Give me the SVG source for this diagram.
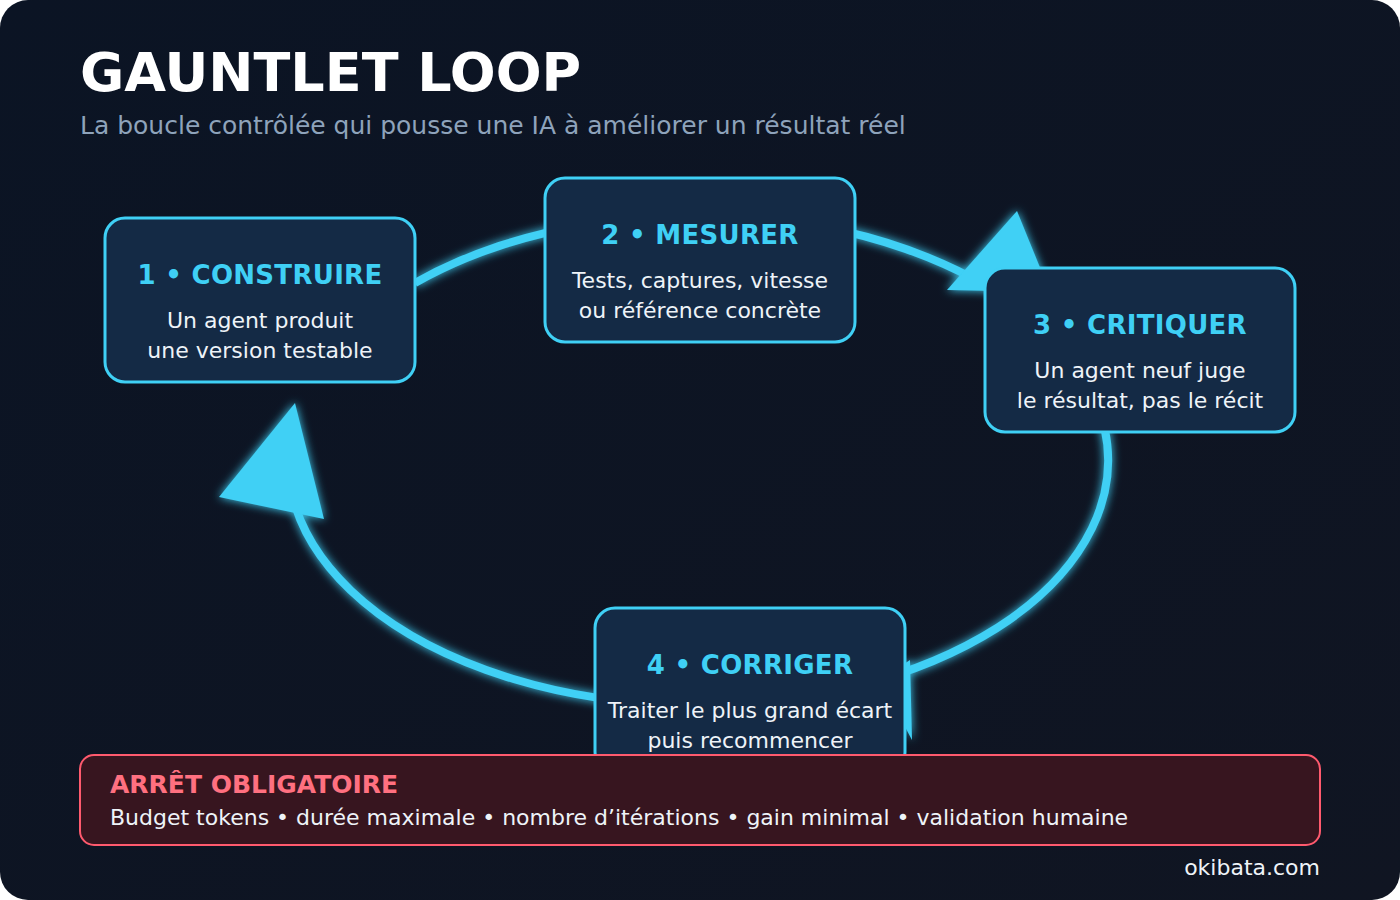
<svg xmlns="http://www.w3.org/2000/svg" width="1400" height="900" viewBox="0 0 1400 900">
<defs>
<linearGradient id="bg" x1="0" y1="0" x2="1" y2="1"><stop offset="0" stop-color="#0b1424"/><stop offset="1" stop-color="#101522"/></linearGradient>
<filter id="glow" x="-20%" y="-20%" width="140%" height="140%"><feGaussianBlur stdDeviation="5" result="b"/><feMerge><feMergeNode in="b"/><feMergeNode in="SourceGraphic"/></feMerge></filter>
</defs>
<style>
.node rect{fill:#142a45;stroke:#3fd0f5;stroke-width:3}
.t{font-family:"DejaVu Sans",sans-serif;font-weight:bold;font-size:26px;fill:#3fd0f5;text-anchor:middle;letter-spacing:0.3px}
.d{font-family:"DejaVu Sans",sans-serif;font-size:22px;fill:#eef3f8;text-anchor:middle}
.c{fill:none;stroke:#3fd0f5;stroke-width:8}
.a{fill:#3fd0f5}
</style>
<rect width="1400" height="900" rx="28" fill="url(#bg)"/>
<text x="80" y="91" font-family="DejaVu Sans,sans-serif" font-weight="bold" font-size="54" fill="#ffffff">GAUNTLET LOOP</text>
<text x="80" y="134" font-family="DejaVu Sans,sans-serif" font-size="25" fill="#8ea3bb">La boucle contrôlée qui pousse une IA à améliorer un résultat réel</text>
<g id="connectors" filter="url(#glow)">
<path class="c" d="M 415 283 A 410 245 0 1 1 292 494"/>
<polygon class="a" points="1017,211 947,290 1050,292"/>
<polygon class="a" points="295,403 219,497 324,519"/>
<polygon class="a" points="912,740 880,680 910,660"/>
</g>
<g id="n1" class="node"><rect x="105" y="218" width="310" height="164" rx="20"/><text class="t" x="260" y="284">1 • CONSTRUIRE</text><text class="d" x="260" y="328">Un agent produit</text><text class="d" x="260" y="358">une version testable</text></g>
<g id="n2" class="node"><rect x="545" y="178" width="310" height="164" rx="20"/><text class="t" x="700" y="244">2 • MESURER</text><text class="d" x="700" y="288">Tests, captures, vitesse</text><text class="d" x="700" y="318">ou référence concrète</text></g>
<g id="n3" class="node"><rect x="985" y="268" width="310" height="164" rx="20"/><text class="t" x="1140" y="334">3 • CRITIQUER</text><text class="d" x="1140" y="378">Un agent neuf juge</text><text class="d" x="1140" y="408">le résultat, pas le récit</text></g>
<g id="n4" class="node"><rect x="595" y="608" width="310" height="164" rx="20"/><text class="t" x="750" y="674">4 • CORRIGER</text><text class="d" x="750" y="718">Traiter le plus grand écart</text><text class="d" x="750" y="748">puis recommencer</text></g>
<g id="stop"><rect x="80" y="755" width="1240" height="90" rx="14" fill="#37151f" stroke="#ff5a6e" stroke-width="2"/>
<text x="110" y="793" font-family="DejaVu Sans,sans-serif" font-weight="bold" font-size="25" fill="#ff7080">ARRÊT OBLIGATOIRE</text>
<text x="110" y="825" font-family="DejaVu Sans,sans-serif" font-size="22" fill="#eef3f8">Budget tokens • durée maximale • nombre d’itérations • gain minimal • validation humaine</text></g>
<text x="1320" y="875" text-anchor="end" font-family="DejaVu Sans,sans-serif" font-size="22" fill="#eef3f8">okibata.com</text>
</svg>
